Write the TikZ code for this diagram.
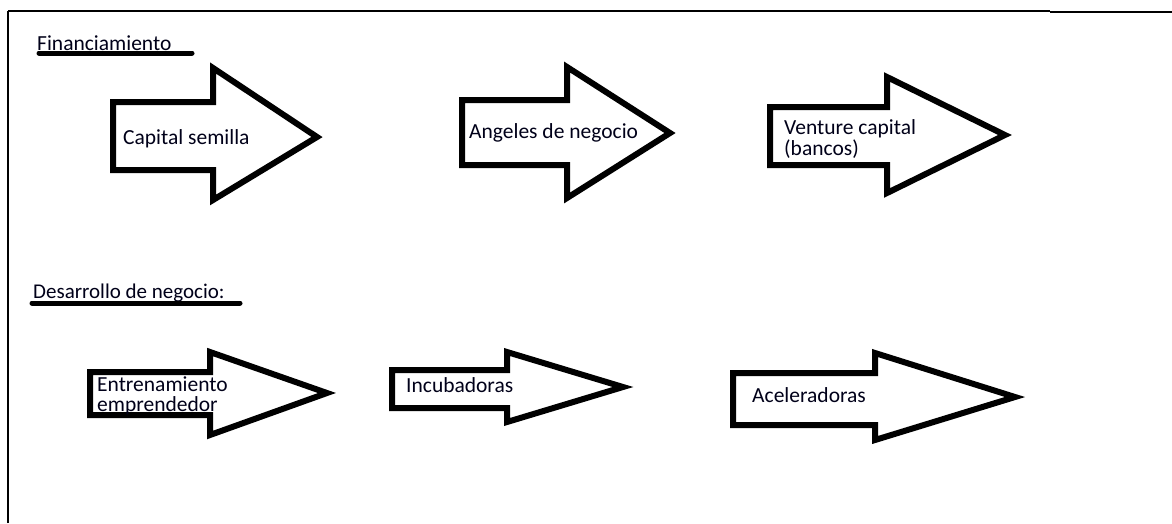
\documentclass[tikz,border=0pt]{standalone}
\usepackage{fontspec}
\setmainfont{Carlito}
\begin{document}
\begin{tikzpicture}[x=1pt,y=-1pt,
  arrowshape/.style={draw=black,line width=6pt,line join=miter,fill=white},
  frameline/.style={draw=black,line width=2pt},
  headunder/.style={draw=black,line width=5pt,line cap=round},
  lbl/.style={inner sep=0pt,anchor=base west,font=\fontsize{21.5}{20.5}\selectfont,text=black!90!blue,align=left},
  heading/.style={lbl}]
\useasboundingbox (0,0) rectangle (1172,523);
\fill[white] (0,0) rectangle (1172,523);
% frame
\coordinate (fTL) at (8,11);
\coordinate (fBL) at (8,523);
\coordinate (fTM) at (1050,11);
\coordinate (fTMb) at (1050,12);
\coordinate (fTR) at (1172,12);
\draw[frameline] (fBL) -- (fTL);
\draw[black,line width=1.5pt] (fTL) -- (fTM);
\draw[black,line width=2.5pt] (fTMb) -- (fTR);
% headings
\node[heading] (hfin) at (37,50) {Financiamiento};
\coordinate (u1a) at (39,53);
\coordinate (u1b) at (192,53);
\draw[headunder] (u1a) -- (u1b);
\node[heading,font=\fontsize{21}{21}\selectfont] (hdes) at (33,298) {Desarrollo de negocio:};
\coordinate (u2a) at (32,303);
\coordinate (u2b) at (240,303);
\draw[headunder] (u2a) -- (u2b);
% arrow macro: left, bodytop, bodybottom, headx, headtop, headbottom, tipx, tipy
\newcommand\myarrow[8]{%
  \draw[arrowshape] (#1,#2) -- (#4,#2) -- (#4,#5) -- (#7,#8) -- (#4,#6) -- (#4,#3) -- (#1,#3) -- cycle;}
% row 1
\myarrow{113}{102}{170}{213}{68}{200}{317}{137}
\node[lbl] (a1) at (123,144) {Capital semilla};
\myarrow{462}{100}{165}{567}{67}{198}{670}{133}
\node[lbl] (a2) at (469,138) {Angeles de negocio};
\myarrow{770}{107}{165}{887}{77}{193}{1005}{135}
\node[lbl] (a3) at (784,155) {Venture capital\\(bancos)};
% row 2
\myarrow{90}{372}{415}{210}{352}{435}{327}{393}
\node[lbl,font=\fontsize{21.5}{20}\selectfont] (b1) at (97,411) {Entrenamiento\\emprendedor};
\myarrow{392}{370}{408}{507}{352}{422}{623}{387}
\node[lbl] (b2) at (406,392) {Incubadoras};
\myarrow{733}{373}{425}{875}{353}{440}{1015}{397}
\node[lbl] (b3) at (752,402) {Aceleradoras};
\end{tikzpicture}
\end{document}
